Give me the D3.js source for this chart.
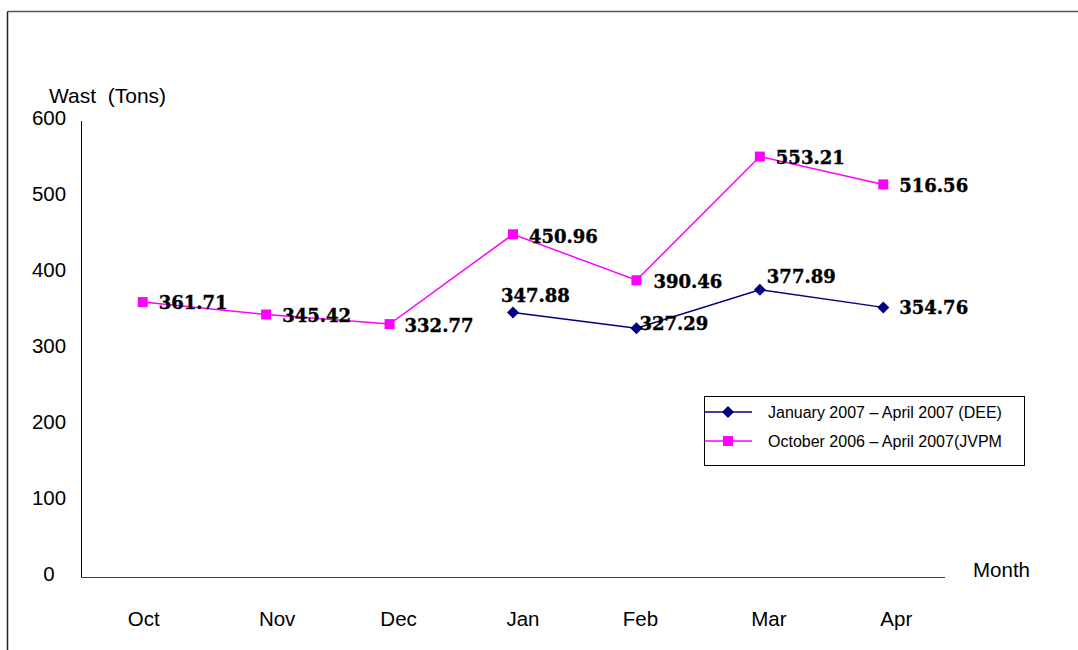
<!DOCTYPE html>
<html><head><meta charset="utf-8">
<script src="https://cdn.jsdelivr.net/npm/d3@7/dist/d3.min.js"></script>
<style>body{margin:0;background:#fff;} svg{display:block;}</style>
</head><body>
<svg id="c" width="1078" height="650"></svg>
<script>
const months = ["Oct","Nov","Dec","Jan","Feb","Mar","Apr"];
const jvpmValues = [361.71, 345.42, 332.77, 450.96, 390.46, 553.21, 516.56];
const deeMonths = ["Jan","Feb","Mar","Apr"];
const deeValues = [347.88, 327.29, 377.89, 354.76];
const yTicks = [0,100,200,300,400,500,600];
const seriesNames = ["January 2007 \u2013 April 2007 (DEE)", "October 2006 \u2013 April 2007(JVPM"];

const svg = d3.select("#c");
// frame (top and left visible)
svg.append("line").attr("x1",7.5).attr("x2",1078).attr("y1",11.5).attr("y2",11.5).attr("stroke","#555").attr("stroke-width",1.5);
svg.append("line").attr("x1",7.5).attr("x2",7.5).attr("y1",11.5).attr("y2",650).attr("stroke","#222").attr("stroke-width",1.5);

const x = d3.scaleBand().domain(months).range([81,945]);
const y = d3.scaleLinear().domain([0,600]).range([577,121]);
const cx = m => x(m) + x.bandwidth()/2;

// axes lines
svg.append("line").attr("x1",81.5).attr("x2",81.5).attr("y1",121).attr("y2",577.5).attr("stroke","#000");
svg.append("line").attr("x1",81).attr("x2",945).attr("y1",577.5).attr("y2",577.5).attr("stroke","#444");

const sans = "Liberation Sans, Arial, sans-serif";
svg.append("g").selectAll("text").data(yTicks).join("text")
  .attr("x",49).attr("y",d=>y(d)-3).attr("dy","0.35em").attr("text-anchor","middle")
  .attr("font-family",sans).attr("font-size",20.5).text(d=>d);
const monthLabelShift = [1,11,9,10,4,9,13];
svg.append("g").selectAll("text").data(months).join("text")
  .attr("x",(d,i)=>cx(d)+monthLabelShift[i]).attr("y",619).attr("dy","0.35em").attr("text-anchor","middle")
  .attr("font-family",sans).attr("font-size",20.5).text(d=>d);
svg.append("text").attr("x",49).attr("y",103).attr("font-family",sans).attr("font-size",21)
  .attr("xml:space","preserve").style("white-space","pre").text("Wast  (Tons)");
svg.append("text").attr("x",973).attr("y",577).attr("font-family",sans).attr("font-size",20.5).text("Month");

const line = d3.line().x(d=>cx(d[0])).y(d=>y(d[1]));
const jv = months.map((m,i)=>[m,jvpmValues[i]]);
const de = deeMonths.map((m,i)=>[m,deeValues[i]]);
const pink = "#ff00ff", navy = "#000080";

svg.append("path").attr("d",line(jv)).attr("fill","none").attr("stroke",pink).attr("stroke-width",1.5);
svg.append("path").attr("d",line(de)).attr("fill","none").attr("stroke",navy).attr("stroke-width",1.5);

svg.append("g").selectAll("rect").data(jv).join("rect")
  .attr("x",d=>cx(d[0])-5).attr("y",d=>y(d[1])-5).attr("width",10).attr("height",10).attr("fill",pink);
const diamondPath = d3.symbol().type(d3.symbolSquare).size(72);
svg.append("g").selectAll("path").data(de).join("path")
  .attr("d", diamondPath).attr("transform",d=>`translate(${cx(d[0])},${y(d[1])}) rotate(45)`)
  .attr("fill",navy);

const serif = "DejaVu Serif, serif";
// label placement (dx, dy relative to marker)
const jvOff = [[16,1],[16,1],[15,2],[16,2],[17,1],[16,1],[16,1]];
const deOff = [[-12,-17],[3,-5],[7,-13],[16,0]];
function labels(data, off){
  svg.append("g").selectAll("text").data(data).join("text")
    .attr("x",(d,i)=>cx(d[0])+off[i][0]).attr("y",(d,i)=>y(d[1])+off[i][1]).attr("dy","0.35em")
    .attr("font-family",serif).attr("font-weight","bold").attr("font-size",18).attr("fill","#000")
    .attr("stroke","#000").attr("stroke-width",0.4)
    .text(d=>d[1].toFixed(2));
}
labels(jv, jvOff);
labels(de, deOff);

// legend
const lg = svg.append("g");
lg.append("rect").attr("x",704.5).attr("y",396.5).attr("width",320).attr("height",69).attr("fill","#fff").attr("stroke","#000");
const items = [{name:seriesNames[0], c:navy, t:"d"},{name:seriesNames[1], c:pink, t:"s"}];
items.forEach((it,i)=>{
  const yy = 412 + i*29;
  lg.append("line").attr("x1",705).attr("x2",752).attr("y1",yy).attr("y2",yy).attr("stroke",it.c).attr("stroke-width",1.5);
  if(it.t==="s") lg.append("rect").attr("x",723).attr("y",yy-5).attr("width",10).attr("height",10).attr("fill",it.c);
  else lg.append("path").attr("d",diamondPath).attr("transform",`translate(728,${yy}) rotate(45)`).attr("fill",it.c);
  lg.append("text").attr("x",768).attr("y",yy).attr("dy","0.35em").attr("font-family",sans).attr("font-size",16).text(it.name);
});
</script>
</body></html>
